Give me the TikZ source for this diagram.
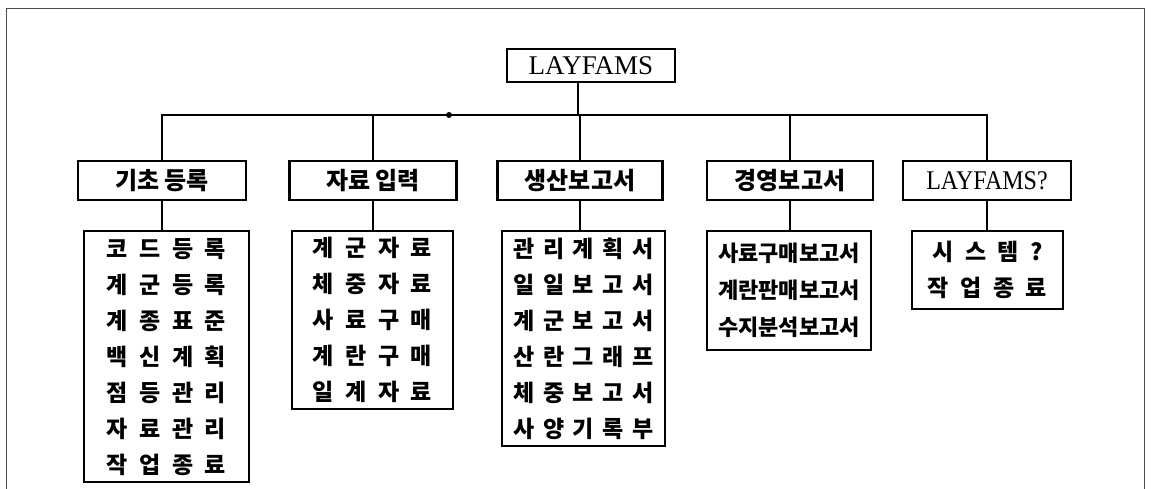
\documentclass[tikz,border=0pt]{standalone}
\usepackage{fontspec}
\setmainfont{Liberation Serif}
\newfontfamily\narrowserif[FakeStretch=0.89]{Liberation Serif}
\newfontfamily\kr{Noto Sans CJK KR}
\newfontfamily\krsp[LetterSpace=50]{Noto Sans CJK KR}
\newfontfamily\krmid[LetterSpace=38]{Noto Sans CJK KR}

\begin{document}
\begin{tikzpicture}[x=1pt, y=1pt,
	box/.style={draw, line width=2.2pt, inner sep=0pt, minimum height=39pt},
	menu/.style={box, font=\kr\bfseries\fontsize{24}{28}\selectfont},
	list/.style={draw, line width=2.2pt, anchor=north, inner sep=0pt, align=center},
	wire/.style={line width=2pt},
	joint/.style={circle, fill=black, inner sep=0pt, minimum size=6pt}]
	\useasboundingbox (0,0) rectangle (1151,489);
	\draw [line width=1pt, black!70] (6,0) -- (6,480) -- (1144,480) -- (1144,0);

	\node (root) [box, minimum width=168pt, minimum height=33pt, font=\fontsize{27}{30}\selectfont] at (591,423.5) {LAYFAMS};
	\coordinate (bus) at (0,374);

	% main menu
	\node (k1) [menu, minimum width=168pt] at (162,308.5) {기초 등록};
	\node (k2) [menu, minimum width=167pt] at (373,308.5) {자료 입력};
	\node (k3) [menu, minimum width=165pt] at (580,308.5) {생산보고서};
	\node (k4) [menu, minimum width=166pt] at (790,308.5) {경영보고서};
	\node (k5) [box, minimum width=168pt, font=\narrowserif\fontsize{27}{30}\selectfont] at (987,308.5) {LAYFAMS?};

	% sub menus
	\node (d1) [list, minimum width=165pt, minimum height=251pt, font=\krsp\bfseries\fontsize{23}{36}\selectfont] at (166.5,259)
		{코드등록\\계군등록\\계종표준\\백신계획\\점등관리\\자료관리\\작업종료};
	\node (d2) [list, minimum width=161pt, minimum height=178pt, font=\krsp\bfseries\fontsize{23}{36}\selectfont] at (372.5,259)
		{계군자료\\체중자료\\사료구매\\계란구매\\일계자료};
	\node (d3) [list, minimum width=163pt, minimum height=215pt, font=\krmid\bfseries\fontsize{23}{36}\selectfont] at (583.5,259)
		{관리계획서\\일일보고서\\계군보고서\\산란그래프\\체중보고서\\사양기록부};
	\node (d4) [list, minimum width=164pt, minimum height=119pt, font=\kr\bfseries\fontsize{22}{37}\selectfont] at (789,259)
		{사료구매보고서\\계란판매보고서\\수지분석보고서};
	\node (d5) [list, minimum width=151pt, minimum height=78pt, font=\krsp\bfseries\fontsize{23}{36}\selectfont] at (987.5,259)
		{시스템?\\작업종료};

	\draw [wire] ([xshift=-13pt]root.south) -- ([xshift=-13pt]root.south |- bus);
	\draw [wire] (k1.north) -- (k1.north |- bus) -- (k5.north |- bus) -- (k5.north);
	\foreach \k in {k2,k3,k4}
		\draw [wire] (\k.north) -- (\k.north |- bus);
	\node (j) [joint] at (449,374) {};
	\foreach \k/\d in {k1/d1,k2/d2,k3/d3,k4/d4,k5/d5}
		\draw [wire] (\k.south) -- (\k.south |- \d.north);
\end{tikzpicture}
\end{document}
